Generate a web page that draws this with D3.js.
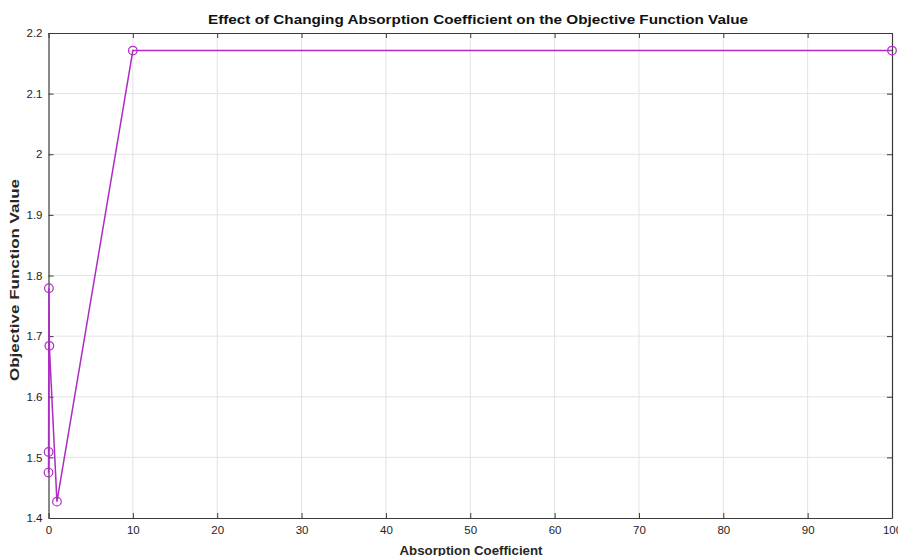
<!DOCTYPE html>
<html>
<head>
<meta charset="utf-8">
<script src="https://cdn.jsdelivr.net/npm/d3@7"></script>
<style>
  html, body { margin: 0; padding: 0; background: #fff; }
  svg { display: block; font-family: "Liberation Sans", Arial, Helvetica, sans-serif; }
</style>
</head>
<body>
<svg id="chart" width="898" height="556"></svg>
<script>
// ---- data ----
const absorption = [0.001, 0.01, 0.05, 0.1, 1, 10, 100];
const objective  = [1.475, 1.509, 1.779, 1.684, 1.427, 2.171, 2.171];
const xTicks = [0, 10, 20, 30, 40, 50, 60, 70, 80, 90, 100];
const yTicks = [1.4, 1.5, 1.6, 1.7, 1.8, 1.9, 2.0, 2.1, 2.2];
const titleText = "Effect of Changing Absorption Coefficient on the Objective Function Value";
const xLabelText = "Absorption Coefficient";
const yLabelText = "Objective Function Value";

// ---- layout ----
const W = 898, H = 556;
const m = { left: 48.5, right: 6, top: 33, bottom: 38 };
const svg = d3.select("#chart");
const x = d3.scaleLinear().domain([0, 100]).range([m.left, W - m.right]);
const y = d3.scaleLinear().domain([1.4, 2.2]).range([H - m.bottom, m.top]);

const lineColor = "#ad2dc4";
const axisColor = "#3a3a3a";

// grid
const grid = svg.append("g");
grid.selectAll("line.gx").data(xTicks.slice(1, -1)).enter().append("line")
  .attr("x1", d => x(d)).attr("x2", d => x(d))
  .attr("y1", y(1.4)).attr("y2", y(2.2))
  .attr("stroke", "#e3e3e3").attr("stroke-width", 1);
grid.selectAll("line.gy").data(yTicks.slice(1, -1)).enter().append("line")
  .attr("y1", d => y(d)).attr("y2", d => y(d))
  .attr("x1", x(0)).attr("x2", x(100))
  .attr("stroke", "#e3e3e3").attr("stroke-width", 1);

// axes (MATLAB style inward ticks, box)
const tickLen = 5;
const xAxisB = d3.axisBottom(x).tickValues(xTicks).tickSizeInner(-tickLen).tickSizeOuter(0).tickPadding(8)
  .tickFormat(d3.format("d"));
const xAxisT = d3.axisTop(x).tickValues(xTicks).tickSizeInner(-tickLen).tickSizeOuter(0).tickFormat("");
const yAxisL = d3.axisLeft(y).tickValues(yTicks).tickSizeInner(-tickLen).tickSizeOuter(0).tickPadding(6)
  .tickFormat(d => d3.format("")(+d.toFixed(1)));
const yAxisR = d3.axisRight(y).tickValues(yTicks).tickSizeInner(-tickLen).tickSizeOuter(0).tickFormat("");

function styleAxis(g) {
  g.select(".domain").attr("stroke", axisColor).attr("stroke-width", 1.2);
  g.selectAll(".tick line").attr("stroke", axisColor).attr("stroke-width", 1);
  g.selectAll(".tick text").attr("fill", "#1e1e1e").attr("font-size", 11.5)
    .attr("font-family", "'Liberation Sans', Arial, sans-serif");
}
svg.append("g").attr("transform", `translate(0,${y(1.4)})`).call(xAxisB).call(styleAxis);
svg.append("g").attr("transform", `translate(0,${y(2.2)})`).call(xAxisT).call(styleAxis);
svg.append("g").attr("transform", `translate(${x(0)},0)`).call(yAxisL).call(styleAxis);
svg.append("g").attr("transform", `translate(${x(100)},0)`).call(yAxisR).call(styleAxis);

// line + markers
const pts = absorption.map((d, i) => [d, objective[i]]);
svg.append("path").datum(pts)
  .attr("fill", "none").attr("stroke", lineColor).attr("stroke-width", 1.5)
  .attr("d", d3.line().x(d => x(d[0])).y(d => y(d[1])));
svg.selectAll("circle.pt").data(pts).enter().append("circle")
  .attr("cx", d => x(d[0])).attr("cy", d => y(d[1])).attr("r", 4.3)
  .attr("fill", "none").attr("stroke", lineColor).attr("stroke-width", 1.2);

// title and labels
svg.append("text").attr("x", 478).attr("y", 24).attr("text-anchor", "middle")
  .attr("font-size", 13).attr("font-weight", "bold").attr("fill", "#111")
  .attr("textLength", 540).attr("lengthAdjust", "spacingAndGlyphs")
  .text(titleText);
svg.append("text").attr("x", 471).attr("y", 555).attr("text-anchor", "middle")
  .attr("font-size", 13).attr("font-weight", "bold").attr("fill", "#262626")
  .attr("textLength", 143).attr("lengthAdjust", "spacingAndGlyphs")
  .text(xLabelText);
svg.append("text").attr("transform", "translate(19,280) rotate(-90)").attr("text-anchor", "middle")
  .attr("font-size", 13.5).attr("font-weight", "bold").attr("fill", "#262626")
  .attr("textLength", 202).attr("lengthAdjust", "spacingAndGlyphs")
  .text(yLabelText);
</script>
</body>
</html>
